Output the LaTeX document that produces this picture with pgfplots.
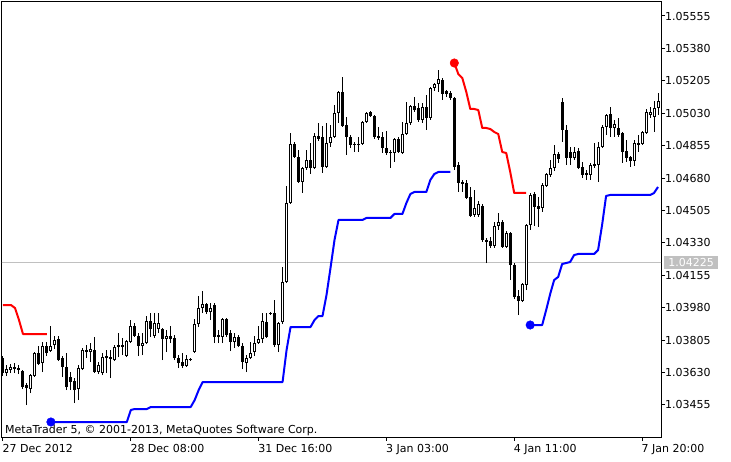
\documentclass[border=0pt]{standalone}
\usepackage{fontspec}
\setmainfont{DejaVu Sans}
\usepackage{pgfplots}
\usepackage{pgfplotstable}
\pgfplotsset{compat=1.18}
\definecolor{mtgrey}{RGB}{192,192,192}
\definecolor{mtred}{RGB}{255,0,0}
\definecolor{mtblue}{RGB}{0,0,255}

% H1 candles, bullish (close > open)
\pgfplotstableread{
x o h l c
1 1.036272 1.036704 1.036110 1.036488
2 1.036434 1.036758 1.036272 1.036596
4 1.036434 1.036704 1.036218 1.036542
7 1.035408 1.036218 1.035192 1.036164
8 1.036110 1.037406 1.036056 1.037352
10 1.036812 1.037946 1.036326 1.037730
12 1.037460 1.038810 1.037406 1.037730
13 1.037784 1.038270 1.037568 1.038054
19 1.035408 1.036704 1.034814 1.036542
20 1.036488 1.037622 1.036434 1.037514
21 1.037406 1.037784 1.037082 1.037514
22 1.037406 1.037892 1.036866 1.037568
24 1.036326 1.036866 1.036218 1.036704
25 1.036272 1.037352 1.036164 1.037136
28 1.036974 1.037784 1.036920 1.037676
29 1.037676 1.038432 1.037136 1.037784
31 1.037190 1.038054 1.037136 1.038000
32 1.037946 1.039134 1.037892 1.038810
35 1.037730 1.038432 1.037244 1.037892
36 1.037892 1.039350 1.037838 1.039080
38 1.038270 1.039512 1.038162 1.038972
39 1.038648 1.039512 1.038432 1.038972
41 1.038108 1.038594 1.037406 1.038270
46 1.036650 1.037244 1.036596 1.037028
48 1.037406 1.039188 1.037352 1.038918
49 1.038918 1.040430 1.038756 1.039782
50 1.039782 1.040700 1.039512 1.039998
52 1.039566 1.040052 1.039134 1.039782
55 1.038216 1.039242 1.037892 1.039188
58 1.037946 1.038432 1.037622 1.038216
61 1.036812 1.037244 1.036326 1.037082
62 1.037082 1.037946 1.037028 1.037352
63 1.037406 1.038270 1.037190 1.037892
64 1.037892 1.038810 1.037838 1.038108
65 1.038108 1.039512 1.037892 1.039080
69 1.037784 1.039026 1.037406 1.038972
70 1.039026 1.041996 1.038918 1.041186
71 1.041186 1.046370 1.041132 1.045452
72 1.045452 1.049232 1.045398 1.048638
75 1.046586 1.047396 1.045992 1.047342
76 1.047342 1.048314 1.047234 1.047774
78 1.047342 1.049232 1.047288 1.049070
81 1.047396 1.049772 1.047342 1.048692
82 1.048692 1.049664 1.048476 1.049016
83 1.049016 1.050744 1.048962 1.050312
84 1.050312 1.051500 1.049772 1.051446
89 1.048584 1.049016 1.048206 1.048638
90 1.048638 1.049880 1.048584 1.049826
91 1.049826 1.050366 1.049772 1.050312
98 1.048152 1.048962 1.047666 1.048908
100 1.048152 1.049826 1.048098 1.049178
101 1.049178 1.050906 1.049124 1.049772
102 1.049772 1.050744 1.049664 1.050690
105 1.049934 1.050852 1.049772 1.050636
107 1.050042 1.051716 1.049934 1.051662
108 1.051662 1.051932 1.051500 1.051878
109 1.051878 1.052634 1.051446 1.052148
118 1.044804 1.046154 1.044696 1.045182
119 1.044804 1.045560 1.044696 1.045398
123 1.043130 1.044426 1.043022 1.044210
124 1.044210 1.044912 1.043994 1.044426
126 1.043076 1.043940 1.043022 1.043832
130 1.040160 1.041132 1.040106 1.041078
131 1.041024 1.044318 1.040754 1.044264
132 1.044264 1.045992 1.043994 1.045884
135 1.045182 1.046532 1.044966 1.046424
136 1.046370 1.047072 1.046316 1.047018
137 1.046964 1.047774 1.046856 1.047342
138 1.047342 1.048584 1.047180 1.048098
143 1.047882 1.048476 1.047774 1.048206
147 1.046964 1.047612 1.046694 1.047504
149 1.047504 1.048746 1.046586 1.048476
150 1.048476 1.049664 1.048422 1.049556
151 1.049556 1.050258 1.049124 1.050204
153 1.049502 1.049934 1.049016 1.049718
158 1.047720 1.048854 1.047450 1.048692
159 1.048584 1.049124 1.048206 1.048692
160 1.048638 1.049340 1.048584 1.049286
161 1.049232 1.050528 1.049178 1.050366
162 1.050204 1.050636 1.050042 1.050366
163 1.050096 1.050960 1.049286 1.050582
164 1.050582 1.051392 1.050204 1.050960
}\upbars

% bearish candles (close < open)
\pgfplotstableread{
x o h l c
0 1.037082 1.037190 1.036110 1.036272
3 1.036596 1.036812 1.036272 1.036488
5 1.036380 1.036434 1.035408 1.035516
6 1.035624 1.035732 1.034544 1.035462
9 1.037352 1.037730 1.036704 1.036758
11 1.037730 1.037946 1.037190 1.037352
14 1.038108 1.038270 1.036920 1.036974
15 1.037082 1.037190 1.036056 1.036596
16 1.036596 1.037352 1.035354 1.035516
17 1.036056 1.036326 1.035354 1.035786
18 1.035840 1.036002 1.034652 1.035354
23 1.037514 1.038216 1.036272 1.036326
26 1.037190 1.037514 1.036272 1.037082
27 1.037136 1.037514 1.036002 1.037028
30 1.037784 1.038162 1.037244 1.037676
33 1.038810 1.038972 1.038216 1.038270
34 1.038270 1.038432 1.037190 1.037730
37 1.039080 1.039512 1.038216 1.038648
40 1.038648 1.038702 1.036974 1.038108
42 1.038270 1.038810 1.037892 1.038108
43 1.038162 1.038324 1.036974 1.037082
44 1.037082 1.037244 1.036542 1.036812
45 1.036866 1.037352 1.036542 1.036650
47 1.037028 1.037082 1.036920 1.036974
51 1.039998 1.040052 1.039458 1.039566
53 1.039944 1.040052 1.037892 1.038216
54 1.038324 1.038594 1.037892 1.038216
56 1.039188 1.039242 1.038216 1.038324
57 1.038432 1.038594 1.037460 1.037946
59 1.038216 1.038324 1.037676 1.037730
60 1.037730 1.037892 1.036488 1.036866
66 1.039026 1.039512 1.038162 1.038216
67 1.039512 1.039566 1.039404 1.039458
68 1.039512 1.040214 1.037676 1.037784
73 1.048638 1.048746 1.047882 1.047936
74 1.047936 1.048314 1.046532 1.046586
77 1.047774 1.048692 1.047018 1.047342
79 1.049070 1.049772 1.048800 1.048908
80 1.049016 1.049610 1.047072 1.047396
85 1.051446 1.052256 1.049556 1.049610
86 1.049664 1.050096 1.048044 1.049016
87 1.049016 1.049124 1.048422 1.048584
88 1.048638 1.048746 1.048206 1.048584
92 1.050366 1.050420 1.050096 1.050150
93 1.050150 1.050204 1.048908 1.049016
94 1.049070 1.049556 1.048854 1.048962
95 1.049016 1.049286 1.048152 1.048422
96 1.048422 1.049340 1.048044 1.048152
97 1.048206 1.048314 1.047342 1.048152
99 1.048908 1.049016 1.048152 1.048206
103 1.050690 1.051176 1.050366 1.050474
104 1.050582 1.050852 1.049826 1.049934
106 1.050636 1.051284 1.049394 1.050042
110 1.052094 1.052202 1.051014 1.051338
111 1.051500 1.051554 1.051176 1.051338
112 1.051392 1.051500 1.051014 1.051122
113 1.051122 1.051176 1.047234 1.047396
114 1.047504 1.047666 1.046046 1.046532
115 1.046586 1.046694 1.046046 1.046478
116 1.046532 1.046694 1.045668 1.045722
117 1.045776 1.046316 1.044696 1.044750
120 1.045290 1.045398 1.043346 1.043454
121 1.043454 1.043562 1.042212 1.043346
122 1.043400 1.043616 1.043022 1.043130
125 1.044426 1.044534 1.043022 1.043076
127 1.043832 1.043886 1.041294 1.042104
128 1.042104 1.042212 1.040268 1.040376
129 1.040430 1.040754 1.039404 1.040160
133 1.045938 1.046046 1.044210 1.045236
134 1.045290 1.045776 1.044156 1.045128
139 1.048098 1.048206 1.047612 1.047828
140 1.050906 1.051122 1.048746 1.049394
141 1.049394 1.049664 1.047504 1.047882
142 1.048206 1.048476 1.047504 1.047882
144 1.048260 1.048422 1.047288 1.047342
145 1.047396 1.047666 1.046802 1.046964
146 1.047072 1.047234 1.046694 1.046964
148 1.047558 1.048692 1.047342 1.047450
152 1.050258 1.050636 1.049016 1.049502
154 1.049502 1.050042 1.049016 1.049124
155 1.049232 1.049286 1.047612 1.048206
156 1.048260 1.048854 1.047666 1.047882
157 1.047936 1.047990 1.047396 1.047720
}\downbars

% trailing line, one table per colour run
\pgfplotstableread{
x y
0 1.039944
2 1.039944
3 1.039782
4 1.039134
5 1.038378
11 1.038378
}\redone
\pgfplotstableread{
x y
12 1.033626
31 1.033626
32 1.034274
33 1.034328
36 1.034328
37 1.034436
47 1.034436
48 1.034814
49 1.035354
50 1.035786
70 1.035786
71 1.037514
72 1.038756
77 1.038756
78 1.039134
79 1.039350
80 1.039350
81 1.040484
82 1.041942
83 1.043454
84 1.044534
90 1.044534
91 1.044642
97 1.044642
98 1.044858
100 1.044858
101 1.045452
102 1.045938
103 1.046046
106 1.046046
107 1.046694
108 1.047018
109 1.047126
112 1.047126
}\blueone
\pgfplotstableread{
x y
113 1.053012
114 1.052418
115 1.052202
116 1.051446
117 1.050528
118 1.050528
119 1.050474
120 1.049502
121 1.049502
122 1.049448
123 1.049286
124 1.049178
125 1.048206
126 1.048152
127 1.047126
128 1.045992
131 1.045992
}\redtwo
\pgfplotstableread{
x y
132 1.038864
135 1.038864
136 1.039674
137 1.040538
138 1.041294
139 1.041456
140 1.042158
141 1.042212
142 1.042266
143 1.042644
144 1.042698
148 1.042698
149 1.042914
150 1.044264
151 1.045830
152 1.045884
162 1.045884
163 1.045992
164 1.046316
}\bluetwo

\pgfplotsset{
  candle/.style 2 args={draw=none, mark=none, forget plot,
    error bars/.cd, y dir=plus, y explicit, error mark=none,
    error bar style={draw=#1, solid, line width=#2}},
}

\begin{document}
\begin{tikzpicture}
\begin{axis}[
  scale only axis,
  width=659pt, height=435pt,
  xmin=-0.25, xmax=164.75,
  ymin=1.032816, ymax=1.056306,
  clip mode=individual,
  axis line style={black, line width=1pt},
  tick align=outside,
  major tick length=4pt,
  tick style={black, line width=1pt},
  xtick pos=bottom,
  ytick pos=right,
  yticklabel pos=right,
  xtick={0,32,64,96,128,160},
  xticklabels={27 Dec 2012,28 Dec 08:00,31 Dec 16:00,3 Jan 03:00,4 Jan 11:00,7 Jan 20:00},
  ytick={1.03455,1.03630,1.03805,1.03980,1.04155,1.04330,1.04505,1.04680,1.04855,1.05030,1.05205,1.05380,1.05555},
  yticklabels={1.03455,1.03630,1.03805,1.03980,1.04155,1.04330,1.04505,1.04680,1.04855,1.05030,1.05205,1.05380,1.05555},
  every tick label/.append style={font=\fontsize{11}{13}\selectfont, inner sep=0pt},
  xticklabel style={anchor=base west, xshift=-0.5pt, yshift=-11pt},
  yticklabel style={anchor=west},
]
% current price line
\addplot[mtgrey, line width=1pt, forget plot] coordinates {(-1,1.04225) (166,1.04225)};

% wicks
\addplot[candle={black}{1pt}]
  table[x=x, y=l, y error plus expr={\thisrow{h}-\thisrow{l}}] {\upbars};
\addplot[candle={black}{1pt}]
  table[x=x, y=l, y error plus expr={\thisrow{h}-\thisrow{l}}] {\downbars};

% bodies
\addplot[candle={black}{3pt}]
  table[x=x, y=c, y error plus expr={\thisrow{o}-\thisrow{c}}] {\downbars};
\addplot[candle={black}{3pt}]
  table[x=x, y=o, y error plus expr={\thisrow{c}-\thisrow{o}}] {\upbars};
\addplot[candle={white}{1pt}]
  table[x=x, y expr={\thisrow{o}+0.000054}, y error plus expr={max(\thisrow{c}-\thisrow{o}-0.000108,0)}] {\upbars};

% trailing stop line
\addplot[mtred, line width=2pt, line join=round, mark=none] table {\redone};
\addplot[mtblue, line width=2pt, line join=round, mark=none] table {\blueone};
\addplot[mtred, line width=2pt, line join=round, mark=none] table {\redtwo};
\addplot[mtblue, line width=2pt, line join=round, mark=none] table {\bluetwo};
\addplot[only marks, mark=*, mark size=4.3pt, mtblue] coordinates {(12,1.033626) (132,1.038864)};
\addplot[only marks, mark=*, mark size=4.3pt, mtred] coordinates {(113,1.053012)};

\node[anchor=base west, inner sep=0pt, font=\fontsize{11}{13}\selectfont]
  at ([shift={(3pt,4pt)}]rel axis cs:0,0) {MetaTrader 5, © 2001-2013, MetaQuotes Software Corp.};
\node[anchor=west, fill=mtgrey, text=white, inner sep=0pt, minimum height=13pt,
  minimum width=54pt, font=\fontsize{11}{13}\selectfont]
  at ([xshift=3pt]axis cs:164.75,1.04225) {1.04225};
\end{axis}
\pgfresetboundingbox
\path[use as bounding box] ([shift={(-2pt,-24pt)}]current axis.south west) rectangle ++(731pt,461pt);
\end{tikzpicture}
\end{document}
